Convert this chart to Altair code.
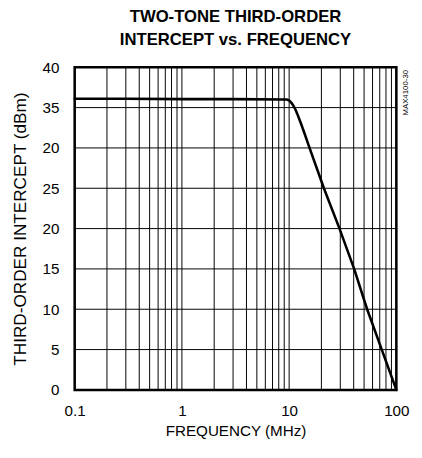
import altair as alt
import pandas as pd

# curve
freq_mhz = [0.1, 0.3, 1, 3, 9, 9.5, 10, 10.5, 11, 11.5, 12, 13, 14, 15.5, 21.1, 29.5, 40.4, 53.4, 73.1, 100]
iip3_dbm = [36.1, 36.1, 36.05, 36.05, 36.0, 36.0, 35.9, 35.6, 35.2, 34.7, 34.1, 32.9, 31.7, 30, 25, 20, 15, 10, 5, 0]

x_grid = [m * d for d in (0.1, 1, 10) for m in range(2, 10)] + [1, 10]
y_grid = [5, 10, 15, 20, 25, 30, 35]
x_ticks = [0.1, 1, 10, 100]
y_ticks = [0, 5, 10, 15, 20, 25, 30, 35, 40]

curve = pd.DataFrame({"f": freq_mhz, "ip3": iip3_dbm})
vgrid = pd.DataFrame({"f": x_grid})
hgrid = pd.DataFrame({"v": y_grid})

FONT = "Liberation Sans"

xs = alt.Scale(type="log", domain=[0.1, 100])
ys = alt.Scale(domain=[0, 40])

vlines = alt.Chart(vgrid).mark_rule(color="black", strokeWidth=1).encode(
    x=alt.X("f:Q", scale=xs)
)
hlines = alt.Chart(hgrid).mark_rule(color="black", strokeWidth=1).encode(
    y=alt.Y("v:Q", scale=ys)
)

line = alt.Chart(curve).mark_line(color="black", strokeWidth=2.6, interpolate="linear",
                                  strokeJoin="round", strokeCap="round").encode(
    x=alt.X(
        "f:Q",
        scale=xs,
        axis=alt.Axis(
            values=x_ticks,
            title="FREQUENCY (MHz)",
            ticks=False,
            domain=False,
            grid=False,
            labelFlush=False,
            labelPadding=14,
            labelFontSize=15.5,
            labelFont=FONT,
            labelColor="black",
            labelExpr="datum.value == 0.1 ? '0.1' : format(datum.value, 'd')",
            titleFontSize=15.5,
            titleFont=FONT,
            titleFontWeight="normal",
            titleColor="black",
            titlePadding=5,
        ),
    ),
    y=alt.Y(
        "ip3:Q",
        scale=ys,
        axis=alt.Axis(
            values=y_ticks,
            title="THIRD-ORDER INTERCEPT (dBm)",
            ticks=False,
            domain=False,
            grid=False,
            labelFlush=False,
            labelPadding=16,
            labelFontSize=15.5,
            labelFont=FONT,
            labelColor="black",
            labelExpr="datum.value == 30 ? '20' : datum.label",
            titleFontSize=17.5,
            titleFont=FONT,
            titleFontWeight="normal",
            titleColor="black",
            titlePadding=13,
        ),
    ),
)

note = alt.Chart(pd.DataFrame({"t": ["MAX4100-30"]})).mark_text(
    angle=270, fontSize=8, font=FONT, color="black", align="center", baseline="middle"
).encode(text="t:N", x=alt.value(338), y=alt.value(26))

chart = (
    alt.layer(vlines, hlines, line, note)
    .properties(
        width=328,
        height=329,
        background="white",
        autosize=alt.AutoSizeParams(type="none"),
        padding={"left": 68, "top": 56, "right": 18, "bottom": 65},
        title=alt.TitleParams(
            text=["TWO-TONE THIRD-ORDER", "INTERCEPT vs. FREQUENCY"],
            font=FONT,
            fontSize=17,
            fontWeight="bold",
            color="black",
            lineHeight=23,
            anchor="middle",
            offset=12,
        ),
    )
    .configure_view(stroke="black", strokeWidth=2.6)
)

chart.save("out.html", embed_options={"renderer": "svg", "actions": False})
